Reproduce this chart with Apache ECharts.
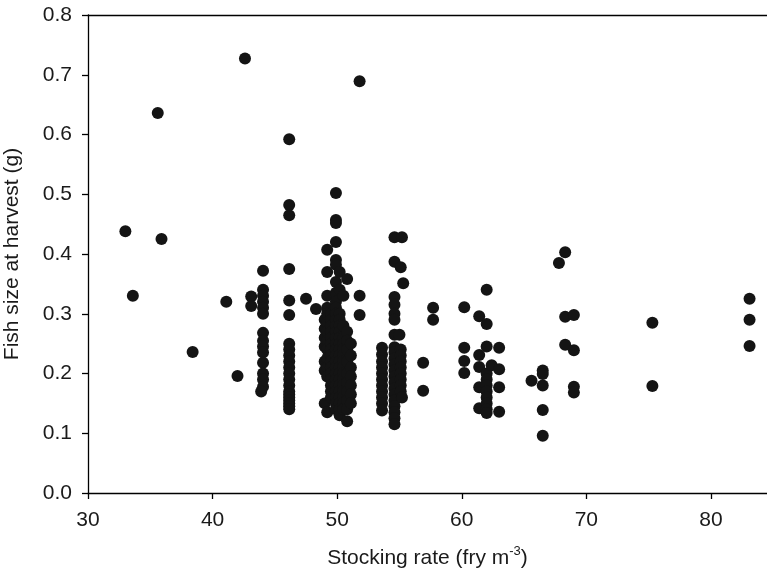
<!DOCTYPE html>
<html>
<head>
<meta charset="utf-8">
<script src="https://cdn.jsdelivr.net/npm/echarts@6/dist/echarts.min.js"></script>
<style>
  html, body { margin: 0; padding: 0; background: #fff; }
  #chart { width: 767px; height: 578px; }
</style>
</head>
<body>
<div id="chart"></div>
<script>
// Stocking rate (fry m-3) and fish size at harvest (g), one entry per pond
const stockingRate = [
  33.0, 33.6, 35.6, 35.9, 38.4, 41.1, 42.0, 42.6, 43.1, 43.1,
  44.05, 44.05, 44.05, 44.05, 44.05, 44.05, 44.05, 44.05, 44.05, 44.05, 44.05, 44.05, 44.05, 44.05, 43.9,
  46.15, 46.15, 46.15, 46.15, 46.15, 46.15, 46.15, 46.15, 46.15, 46.15, 46.15, 46.15, 46.15, 46.15, 46.15, 46.15, 46.15, 46.15, 46.15, 46.15, 46.15,
  47.5, 48.3,
  49.0, 49.0, 49.0, 49.0, 49.0, 49.0, 49.0,
  49.2, 49.2, 49.2, 49.2, 49.2, 49.2, 49.2, 49.2, 49.2, 49.2, 49.2, 49.2, 49.2,
  49.5, 49.5, 49.5, 49.5, 49.5, 49.5, 49.5, 49.5, 49.5, 49.5, 49.5, 49.5, 49.5, 49.5, 49.5,
  49.9, 49.9, 49.9, 49.9, 49.9, 49.9, 49.9, 49.9, 49.9, 49.9, 49.9, 49.9, 49.9, 49.9, 49.9, 49.9, 49.9, 49.9, 49.9, 49.9, 49.9, 49.9, 49.9, 49.9, 49.9, 49.9, 49.9,
  50.2, 50.2, 50.2, 50.2, 50.2, 50.2, 50.2, 50.2, 50.2, 50.2, 50.2, 50.2, 50.2, 50.2, 50.2, 50.2, 50.2, 50.2, 50.2, 50.2,
  50.5, 50.5, 50.5, 50.5, 50.5, 50.5, 50.5, 50.5, 50.5, 50.5, 50.5, 50.5, 50.5, 50.5, 50.5,
  50.8, 50.8, 50.8, 50.8, 50.8, 50.8, 50.8, 50.8, 50.8, 50.8, 50.8,
  51.1, 51.1, 51.1, 51.1, 51.1, 51.1, 51.1,
  51.8, 51.8, 51.8,
  53.6, 53.6, 53.6, 53.6, 53.6, 53.6, 53.6, 53.6, 53.6, 53.6, 53.6,
  54.6, 54.6, 54.6, 54.6, 54.6, 54.6, 54.6, 54.6, 54.6, 54.6, 54.6, 54.6, 54.6, 54.6, 54.6, 54.6, 54.6, 54.6, 54.6, 54.6, 54.6,
  55.2, 55.1, 55.3, 55.0, 55.1, 55.1, 55.1, 55.1, 55.1, 55.1, 55.1, 55.1, 55.2,
  56.9, 56.9, 57.7, 57.7,
  60.2, 60.2, 60.2, 60.2,
  61.4, 61.4, 61.4, 61.4, 61.4,
  62.0, 62.0, 62.0, 62.0, 62.0, 62.0, 62.0, 62.0, 62.0, 62.0, 62.0,
  62.4, 63.0, 63.0, 63.0, 63.0,
  65.6, 66.5, 66.5, 66.5, 66.5, 66.5,
  67.8, 68.3, 68.3, 68.3, 69.0, 69.0, 69.0, 69.0,
  75.3, 75.3, 83.1, 83.1, 83.1
];

const fishSize = [
  0.438, 0.330, 0.636, 0.425, 0.236, 0.320, 0.196, 0.727, 0.329, 0.313,
  0.372, 0.340, 0.330, 0.320, 0.310, 0.300, 0.268, 0.255, 0.245, 0.235, 0.218, 0.200, 0.190, 0.178, 0.170,
  0.592, 0.482, 0.465, 0.375, 0.322, 0.298, 0.250, 0.240, 0.230, 0.220, 0.210, 0.200, 0.190, 0.180, 0.170, 0.165, 0.160, 0.155, 0.150, 0.145, 0.140,
  0.325, 0.308,
  0.150, 0.205, 0.220, 0.245, 0.260, 0.275, 0.290,
  0.407, 0.370, 0.330, 0.310, 0.300, 0.285, 0.270, 0.255, 0.240, 0.225, 0.210, 0.195, 0.135,
  0.300, 0.290, 0.280, 0.270, 0.260, 0.250, 0.240, 0.230, 0.220, 0.210, 0.200, 0.190, 0.180, 0.170, 0.160,
  0.502, 0.457, 0.452, 0.420, 0.390, 0.382, 0.353, 0.335, 0.320, 0.310, 0.300, 0.290, 0.280, 0.270, 0.260, 0.250, 0.240, 0.230, 0.220, 0.210, 0.200, 0.190, 0.180, 0.170, 0.160, 0.150, 0.140,
  0.370, 0.340, 0.300, 0.290, 0.280, 0.270, 0.260, 0.250, 0.240, 0.230, 0.220, 0.210, 0.200, 0.190, 0.180, 0.170, 0.160, 0.150, 0.140, 0.130,
  0.330, 0.280, 0.260, 0.250, 0.240, 0.230, 0.220, 0.210, 0.200, 0.190, 0.180, 0.170, 0.160, 0.150, 0.140,
  0.358, 0.270, 0.255, 0.240, 0.220, 0.200, 0.185, 0.170, 0.155, 0.140, 0.120,
  0.250, 0.230, 0.210, 0.195, 0.180, 0.165, 0.150,
  0.689, 0.330, 0.298,
  0.243, 0.232, 0.220, 0.210, 0.200, 0.190, 0.180, 0.170, 0.160, 0.150, 0.138,
  0.428, 0.387, 0.328, 0.315, 0.300, 0.290, 0.265, 0.244, 0.235, 0.225, 0.215, 0.205, 0.195, 0.185, 0.175, 0.165, 0.155, 0.145, 0.135, 0.125, 0.115,
  0.428, 0.378, 0.351, 0.265, 0.240, 0.230, 0.220, 0.210, 0.200, 0.190, 0.180, 0.170, 0.160,
  0.218, 0.171, 0.310, 0.290,
  0.311, 0.243, 0.221, 0.201,
  0.296, 0.231, 0.211, 0.177, 0.142,
  0.340, 0.283, 0.245, 0.200, 0.190, 0.180, 0.170, 0.160, 0.150, 0.140, 0.134,
  0.214, 0.243, 0.207, 0.177, 0.136,
  0.188, 0.205, 0.199, 0.180, 0.139, 0.096,
  0.385, 0.403, 0.295, 0.248, 0.298, 0.239, 0.178, 0.168,
  0.285, 0.179, 0.325, 0.290, 0.246
];

const xTicks = [30, 40, 50, 60, 70, 80];
const yTicks = [0.0, 0.1, 0.2, 0.3, 0.4, 0.5, 0.6, 0.7, 0.8];

const points = stockingRate.map((r, i) => [r, fishSize[i]]);

const textColor = '#1a1a1a';
const font = 'Liberation Sans, Arial, Helvetica, sans-serif';

const chart = echarts.init(document.getElementById('chart'), null, { renderer: 'canvas' });

chart.setOption({
  animation: false,
  backgroundColor: '#ffffff',
  grid: { left: 88, top: 15, right: 0, bottom: 85, containLabel: false, outerBoundsMode: 'none' },
  xAxis: [
    {
      type: 'value',
      min: xTicks[0],
      max: 84.5,
      interval: 10,
      splitLine: { show: false },
      axisLine: { show: true, onZero: false, lineStyle: { color: '#000', width: 1.3 } },
      axisTick: { show: true, inside: false, length: 6, lineStyle: { color: '#000', width: 1.3 } },
      axisLabel: {
        showMaxLabel: false,
        color: textColor, fontSize: 21, fontFamily: font, margin: 17,
        formatter: v => xTicks.includes(v) ? String(v) : ''
      },
      name: 'Stocking rate (fry m{sup|-3})',
      nameLocation: 'middle',
      nameGap: 52,
      nameTextStyle: {
        color: textColor, fontSize: 21, fontFamily: font,
        rich: {
          sup: { fontSize: 13, fontFamily: font, color: textColor, verticalAlign: 'top', padding: [0, 0, 13, 0] }
        }
      }
    },
    {
      // frame line along the top of the plot
      type: 'value',
      position: 'top',
      min: xTicks[0],
      max: 84.5,
      axisLine: { show: true, onZero: false, lineStyle: { color: '#000', width: 1.3 } },
      axisTick: { show: false },
      axisLabel: { show: false },
      splitLine: { show: false }
    }
  ],
  yAxis: {
    type: 'value',
    min: yTicks[0],
    max: yTicks[yTicks.length - 1],
    interval: 0.1,
    splitLine: { show: false },
    axisLine: { show: true, onZero: false, lineStyle: { color: '#000', width: 1.3 } },
    axisTick: { show: true, inside: false, length: 6, lineStyle: { color: '#000', width: 1.3 } },
    axisLabel: {
      color: textColor, fontSize: 21, fontFamily: font, margin: 16,
      formatter: v => v.toFixed(1)
    },
    name: 'Fish size at harvest (g)',
    nameLocation: 'middle',
    nameGap: 65,
    nameTextStyle: { color: textColor, fontSize: 21, fontFamily: font }
  },
  series: [{
    type: 'scatter',
    xAxisIndex: 0,
    data: points,
    symbol: 'circle',
    symbolSize: 12,
    itemStyle: { color: '#141414', opacity: 1 },
    emphasis: { disabled: true }
  }]
});
</script>
</body>
</html>
